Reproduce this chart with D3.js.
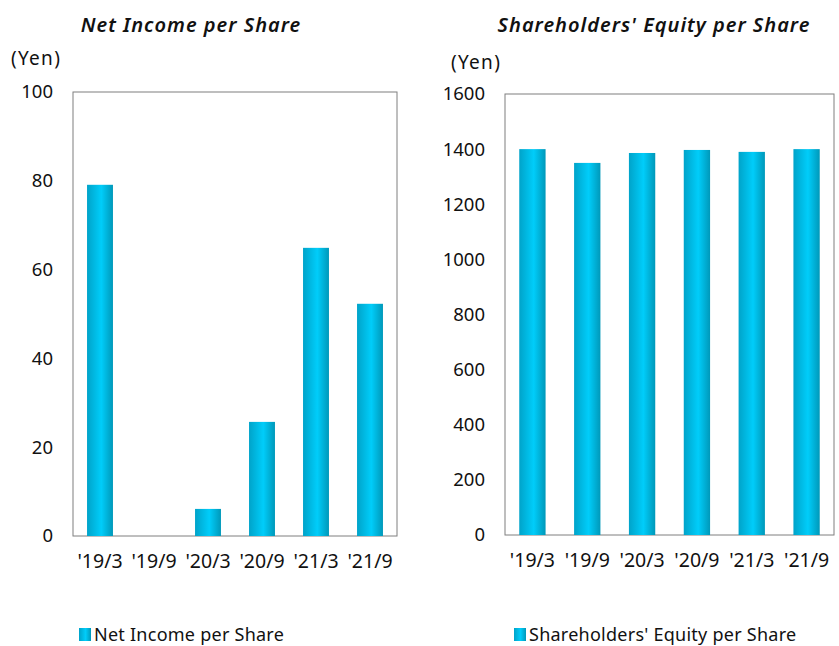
<!DOCTYPE html>
<html>
<head>
<meta charset="utf-8">
<script src="https://cdn.jsdelivr.net/npm/d3@7"></script>
<style>
  body { margin: 0; background: #fff; }
  svg text { font-family: "Noto Sans", "DejaVu Sans", sans-serif; fill: #111; }
</style>
</head>
<body>
<svg id="chart" width="839" height="646"></svg>
<script>
const periods = ["'19/3", "'19/9", "'20/3", "'20/9", "'21/3", "'21/9"];
const netIncome = [79.1, 0, 6.1, 25.7, 64.9, 52.3];
const equity = [1400, 1350, 1386, 1397, 1390, 1400];
const netIncomeTicks = [0, 20, 40, 60, 80, 100];
const equityTicks = [0, 200, 400, 600, 800, 1000, 1200, 1400, 1600];

const FONT = '"Noto Sans", "DejaVu Sans", sans-serif';
const svg = d3.select('#chart');

// bar gradient, darker at the edges
const grad = svg.append('defs').append('linearGradient')
    .attr('id', 'barGrad')
    .attr('x1', '0%').attr('x2', '100%').attr('y1', '0%').attr('y2', '0%');
grad.append('stop').attr('offset', '0%').attr('stop-color', '#00a3c9');
grad.append('stop').attr('offset', '55%').attr('stop-color', '#00cdfa');
grad.append('stop').attr('offset', '100%').attr('stop-color', '#0098b9');

function drawChart(opts) {
    const { left, right, top, bottom, values, ticks, max, title, titleX, unitX, unitY, legendX, legend } = opts;

    const x = d3.scaleBand()
        .domain(periods)
        .range([left, right])
        .paddingInner(0.52)
        .paddingOuter(0.26);

    const y = d3.scaleLinear()
        .domain([0, max])
        .range([bottom, top]);

    const g = svg.append('g');

    // title
    g.append('text')
        .attr('x', titleX)
        .attr('y', 32)
        .attr('text-anchor', 'middle')
        .style('font-size', '20px')
        .style('font-style', 'italic')
        .style('font-weight', '600')
        .style('letter-spacing', '1px')
        .text(title);

    // unit label
    g.append('text')
        .attr('x', unitX)
        .attr('y', unitY)
        .style('font-size', '19px')
        .style('letter-spacing', '1.3px')
        .text('(Yen)');

    // plot frame
    g.append('rect')
        .attr('x', left)
        .attr('y', top)
        .attr('width', right - left)
        .attr('height', bottom - top)
        .style('fill', '#fff')
        .style('stroke', '#7f7f7f')
        .style('stroke-width', 1);

    // bars
    g.selectAll('rect.bar')
        .data(values)
        .enter().append('rect')
        .attr('class', 'bar')
        .attr('x', (d, i) => x(periods[i]))
        .attr('y', d => y(d))
        .attr('width', x.bandwidth())
        .attr('height', d => bottom - y(d))
        .style('fill', 'url(#barGrad)');

    // y axis
    const yAxis = g.append('g')
        .attr('transform', `translate(${left}, 0)`)
        .call(d3.axisLeft(y).tickValues(ticks).tickSize(0).tickPadding(20).tickFormat(d3.format('d')));
    yAxis.select('.domain').remove();
    yAxis.selectAll('text')
        .style('font-size', '18.5px')
        .style('fill', '#111')
        .style('font-family', FONT);

    // x axis
    const xAxis = g.append('g')
        .attr('transform', `translate(0, ${bottom})`)
        .call(d3.axisBottom(x).tickSize(0).tickPadding(18));
    xAxis.select('.domain').remove();
    xAxis.selectAll('text')
        .style('font-size', '19.5px')
        .style('fill', '#111')
        .style('font-family', FONT);

    // legend
    g.append('rect')
        .attr('x', legendX)
        .attr('y', 628)
        .attr('width', 12)
        .attr('height', 13)
        .style('fill', 'url(#barGrad)');
    g.append('text')
        .attr('x', legendX + 15)
        .attr('y', 641)
        .style('font-size', '18px')
        .style('letter-spacing', '0.25px')
        .text(legend);
}

drawChart({
    left: 73, right: 397, top: 92, bottom: 536,
    values: netIncome, ticks: netIncomeTicks, max: 100,
    title: 'Net Income per Share', titleX: 191,
    unitX: 11, unitY: 65, legendX: 79, legend: 'Net Income per Share'
});

drawChart({
    left: 505, right: 834, top: 94, bottom: 535,
    values: equity, ticks: equityTicks, max: 1600,
    title: "Shareholders' Equity per Share", titleX: 654,
    unitX: 451, unitY: 69, legendX: 514, legend: "Shareholders' Equity per Share"
});
</script>
</body>
</html>
